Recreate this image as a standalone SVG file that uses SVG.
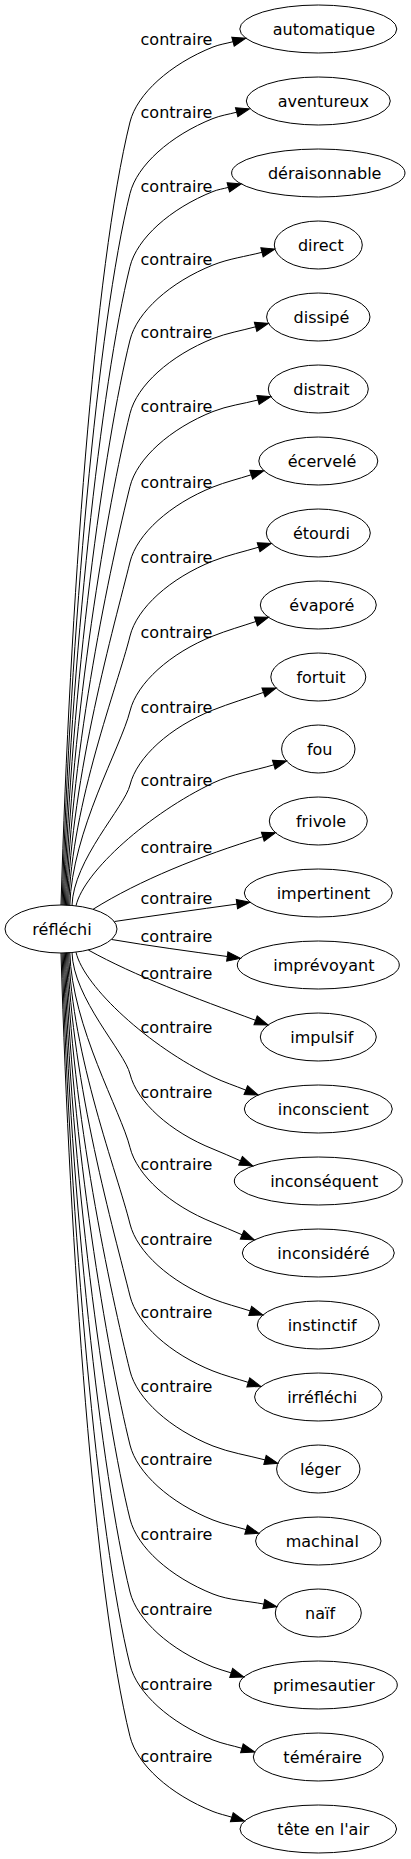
<svg xmlns="http://www.w3.org/2000/svg" width="411" height="1859" viewBox="0 0 411 1859">
<style>
text{font-family:"DejaVu Sans",sans-serif;font-size:16px;fill:#000}
.n text,.lbl{text-anchor:middle}
.n ellipse{fill:none;stroke:#000;stroke-width:1}
.e path{fill:none;stroke:#000;stroke-width:1;marker-end:url(#arr)}
</style>
<defs>
<marker id="arr" markerUnits="userSpaceOnUse" markerWidth="14" markerHeight="10" viewBox="0 -5 14 10" refX="0" refY="0" orient="auto" overflow="visible"><path d="M0,-4.7L13.3,0L0,4.7z" fill="#000" stroke="#000" stroke-width="1"/></marker>
</defs>
<rect width="411" height="1859" fill="#fff"/>
<g id="connectors" class="e">
<path d="M61,905 C69.9,607.5 94.3,266.3 130,122 C136.9,94.1 170.1,64.1 213,47 C219.4,44.4 226.3,43.5 233,41.7"/>
<path d="M62.1,905 C70.2,634.6 97.6,324.6 130,193.5 C136.9,165.6 170.1,135.6 213,118.5 C220.6,115.5 228.7,114.3 236.65,112.2"/>
<path d="M63.2,905 C70.5,662.4 100.9,384.2 130,266.5 C136.9,238.6 170.1,208.6 213,191.5 C217.9,189.5 223.2,188.8 228.35,187.4"/>
<path d="M64.3,905.1 C70.7,690.4 104.2,444.2 130,340 C136.9,312.1 170.1,282.1 213,265 C228.7,258.7 245.6,256.5 262,252.3"/>
<path d="M65.4,905.2 C71,718.4 107.6,504.1 130,413.5 C136.9,385.6 170.1,355.6 213,338.5 C226.7,333.1 241.4,330.7 255.6,326.8"/>
<path d="M66.5,905.3 C71.3,746.2 110.9,563.7 130,486.5 C136.9,458.6 170.1,428.6 213,411.5 C227.4,405.8 243,403.8 258,400"/>
<path d="M67.6,905.3 C71.5,774.8 114.4,625.2 130,562 C136.9,534.1 170.1,504.1 213,487 C225.5,482 238.4,478.9 251.2,474.8"/>
<path d="M68.7,905.4 C71.8,803 117.7,685.7 130,636 C136.9,608.1 170.1,578.1 213,561 C227.8,555.1 243.4,551.8 258.6,547.2"/>
<path d="M69.8,905.4 C72,831.5 121.1,746.8 130,711 C136.9,683.1 170.1,653.1 213,636 C227,630.4 241.6,626.3 255.9,621.5"/>
<path d="M72,905.5 C73.4,859.7 124.5,807.2 130,785 C136.9,757.1 170.1,727.1 213,710 C229.6,703.4 246.7,698.3 263.5,692.4"/>
<path d="M76,905.8 C84,871 150,813 213,783 C232.1,773.9 253.5,770.9 273.8,764.8"/>
<path d="M93,909.3 C140,880 200,856 262.8,836.7"/>
<path d="M114.5,921.5 C155,915.5 197,909.6 236.9,904.1"/>
<path d="M111.7,939.5 C150,946 190,951.4 227.3,956.5"/>
<path d="M88.3,950 C135,976 195,998 255.6,1020.3"/>
<path d="M76,952.2 C84,987 150,1047 213,1077 C223.7,1082.1 234.8,1085.7 245.8,1090.1"/>
<path d="M72,952.5 C73.4,998.7 124.5,1051.6 130,1074 C136.9,1101.9 170.1,1131.9 213,1149 C222.3,1152.7 231.3,1156.9 240.5,1160.8"/>
<path d="M69.8,952.6 C72,1026.7 121.1,1111.6 130,1147.5 C136.9,1175.4 170.1,1205.4 213,1222.5 C222.8,1226.4 232.4,1230.7 242.1,1234.8"/>
<path d="M68.7,952.6 C71.8,1055.7 117.6,1173.9 130,1224 C136.9,1251.9 170.1,1281.9 213,1299 C225.1,1303.8 237.8,1306.9 250.2,1310.9"/>
<path d="M67.6,952.7 C71.5,1083.2 114.4,1232.8 130,1296 C136.9,1323.9 170.1,1353.9 213,1371 C224.5,1375.6 236.5,1378.6 248.3,1382.4"/>
<path d="M66.5,952.7 C71.3,1111.7 110.9,1293.9 130,1371 C136.9,1398.9 170.1,1428.9 213,1446 C229.6,1452.6 247.7,1455.3 265,1459.9"/>
<path d="M65.4,952.8 C71,1139.8 107.6,1354.3 130,1445 C136.9,1472.9 170.1,1502.9 213,1520 C223.7,1524.3 235.1,1526.4 246.1,1529.6"/>
<path d="M64.3,952.9 C70.8,1168 104.2,1414.6 130,1519 C136.9,1546.9 170.1,1576.9 213,1594 C229.1,1600.4 246.8,1600.7 263.8,1604.1"/>
<path d="M63.2,953 C70.5,1195.8 100.9,1474.2 130,1592 C136.9,1619.9 170.1,1649.9 213,1667 C219,1669.4 225.1,1670.9 231.2,1672.9"/>
<path d="M62.1,953 C70.2,1223.6 97.5,1533.8 130,1665 C136.9,1692.9 170.1,1722.9 213,1740 C222.3,1743.7 232.3,1745.5 241.9,1748.3"/>
<path d="M61,953 C69.9,1250.7 94.3,1592.1 130,1736.5 C136.9,1764.4 170.1,1794.4 213,1811.5 C219,1813.9 225.6,1815.3 231.8,1817.2"/>
<text class="lbl" x="176.5" y="45">contraire</text>
<text class="lbl" x="176.5" y="118.3">contraire</text>
<text class="lbl" x="176.5" y="191.7">contraire</text>
<text class="lbl" x="176.5" y="265">contraire</text>
<text class="lbl" x="176.5" y="338.3">contraire</text>
<text class="lbl" x="176.5" y="411.7">contraire</text>
<text class="lbl" x="176.5" y="488.4">contraire</text>
<text class="lbl" x="176.5" y="562.7">contraire</text>
<text class="lbl" x="176.5" y="638.4">contraire</text>
<text class="lbl" x="176.5" y="712.7">contraire</text>
<text class="lbl" x="176.5" y="786">contraire</text>
<text class="lbl" x="176.5" y="852.7">contraire</text>
<text class="lbl" x="176.5" y="904.4">contraire</text>
<text class="lbl" x="176.5" y="941.7">contraire</text>
<text class="lbl" x="176.5" y="979.4">contraire</text>
<text class="lbl" x="176.5" y="1033.4">contraire</text>
<text class="lbl" x="176.5" y="1098.4">contraire</text>
<text class="lbl" x="176.5" y="1170">contraire</text>
<text class="lbl" x="176.5" y="1245">contraire</text>
<text class="lbl" x="176.5" y="1317.7">contraire</text>
<text class="lbl" x="176.5" y="1391.7">contraire</text>
<text class="lbl" x="176.5" y="1465">contraire</text>
<text class="lbl" x="176.5" y="1540">contraire</text>
<text class="lbl" x="176.5" y="1615">contraire</text>
<text class="lbl" x="176.5" y="1689.7">contraire</text>
<text class="lbl" x="176.5" y="1761.7">contraire</text>
</g>
<g id="n-reflechi" class="n"><ellipse cx="61" cy="929" rx="56" ry="24"/><text x="62" y="935">réfléchi</text></g>
<g id="n-automatique" class="n"><ellipse cx="318.3" cy="29" rx="78.5" ry="24"/><text x="323.9" y="35">automatique</text></g>
<g id="n-aventureux" class="n"><ellipse cx="318.3" cy="101" rx="72" ry="24"/><text x="323.4" y="107">aventureux</text></g>
<g id="n-deraisonnable" class="n"><ellipse cx="318.3" cy="173" rx="86.7" ry="24"/><text x="324.7" y="179">déraisonnable</text></g>
<g id="n-direct" class="n"><ellipse cx="318.3" cy="245" rx="44" ry="24"/><text x="320.8" y="251">direct</text></g>
<g id="n-dissipe" class="n"><ellipse cx="318.3" cy="317" rx="51.7" ry="24"/><text x="321.4" y="323">dissipé</text></g>
<g id="n-distrait" class="n"><ellipse cx="318.3" cy="389" rx="50" ry="24"/><text x="321.4" y="395">distrait</text></g>
<g id="n-ecervele" class="n"><ellipse cx="318.3" cy="461" rx="59.5" ry="24"/><text x="322.1" y="467">écervelé</text></g>
<g id="n-etourdi" class="n"><ellipse cx="318.3" cy="533" rx="52" ry="24"/><text x="321.4" y="539">étourdi</text></g>
<g id="n-evapore" class="n"><ellipse cx="318.3" cy="605" rx="58" ry="24"/><text x="321.9" y="611">évaporé</text></g>
<g id="n-fortuit" class="n"><ellipse cx="318.3" cy="677" rx="47.5" ry="24"/><text x="321" y="683">fortuit</text></g>
<g id="n-fou" class="n"><ellipse cx="318.3" cy="749" rx="36.7" ry="24"/><text x="319.7" y="755">fou</text></g>
<g id="n-frivole" class="n"><ellipse cx="318.3" cy="821" rx="49" ry="24"/><text x="321.1" y="827">frivole</text></g>
<g id="n-impertinent" class="n"><ellipse cx="318.3" cy="893" rx="74" ry="24"/><text x="323.5" y="899">impertinent</text></g>
<g id="n-imprevoyant" class="n"><ellipse cx="318.3" cy="965" rx="81" ry="24"/><text x="323.9" y="971">imprévoyant</text></g>
<g id="n-impulsif" class="n"><ellipse cx="318.3" cy="1037" rx="58" ry="24"/><text x="321.8" y="1043">impulsif</text></g>
<g id="n-inconscient" class="n"><ellipse cx="318.3" cy="1109" rx="74" ry="24"/><text x="323.3" y="1115">inconscient</text></g>
<g id="n-inconsequent" class="n"><ellipse cx="318.3" cy="1181" rx="84" ry="24"/><text x="324.2" y="1187">inconséquent</text></g>
<g id="n-inconsidere" class="n"><ellipse cx="318.3" cy="1253" rx="76" ry="24"/><text x="323.4" y="1259">inconsidéré</text></g>
<g id="n-instinctif" class="n"><ellipse cx="318.3" cy="1325" rx="61" ry="24"/><text x="322.1" y="1331">instinctif</text></g>
<g id="n-irreflechi" class="n"><ellipse cx="318.3" cy="1397" rx="63.7" ry="24"/><text x="322.2" y="1403">irréfléchi</text></g>
<g id="n-leger" class="n"><ellipse cx="318.3" cy="1469" rx="41.7" ry="24"/><text x="320.5" y="1475">léger</text></g>
<g id="n-machinal" class="n"><ellipse cx="318.3" cy="1541" rx="62.7" ry="24"/><text x="322.3" y="1547">machinal</text></g>
<g id="n-naif" class="n"><ellipse cx="318.3" cy="1613" rx="43" ry="24"/><text x="320" y="1619">naïf</text></g>
<g id="n-primesautier" class="n"><ellipse cx="318.3" cy="1685" rx="79" ry="24"/><text x="323.9" y="1691">primesautier</text></g>
<g id="n-temeraire" class="n"><ellipse cx="318.3" cy="1757" rx="65" ry="24"/><text x="322.6" y="1763">téméraire</text></g>
<g id="n-tete-en-l-air" class="n"><ellipse cx="318.3" cy="1829" rx="78.3" ry="24"/><text x="323.4" y="1835">tête en l'air</text></g>
</svg>
